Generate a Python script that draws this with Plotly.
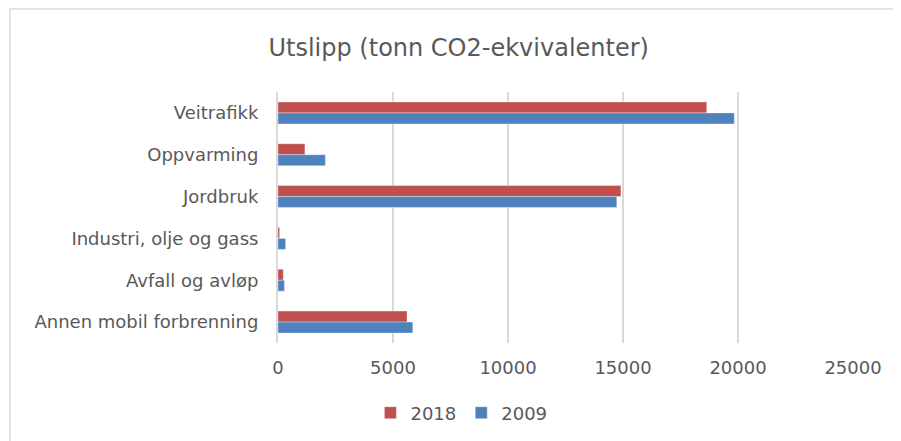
import plotly.graph_objects as go

# Data
categories = ['Veitrafikk', 'Oppvarming', 'Jordbruk', 'Industri, olje og gass',
              'Avfall og avløp', 'Annen mobil forbrenning']
values_2018 = [18640, 1170, 14910, 70, 230, 5610]
values_2009 = [19840, 2060, 14730, 330, 280, 5860]

text_color = '#595959'
grid_color = '#D9D9D9'

fig = go.Figure()
fig.add_trace(go.Bar(name='2018', y=categories, x=values_2018, orientation='h',
                     marker=dict(color='#C0504D', line=dict(color='rgba(255,255,255,0.35)', width=1))))
fig.add_trace(go.Bar(name='2009', y=categories, x=values_2009, orientation='h',
                     marker=dict(color='#4F81BD', line=dict(color='rgba(255,255,255,0.35)', width=1))))

# page body adds an 8px margin, so the figure is a bit smaller than the window
fig.update_layout(
    width=893, height=433,
    margin=dict(l=270, r=48, t=84, b=98, autoexpand=False),
    paper_bgcolor='white', plot_bgcolor='white',
    font=dict(family='DejaVu Sans', size=18, color=text_color),
    title=dict(text='Utslipp (tonn CO2-ekvivalenter)', font=dict(size=24, color=text_color),
               x=0.5047, xanchor='center', y=0.908, yanchor='middle'),
    barmode='group', bargap=0.475, bargroupgap=0,
    legend=dict(orientation='h', x=0.319, xanchor='center', y=-0.279, yanchor='middle',
                font=dict(size=18, color=text_color), itemwidth=30),
    xaxis=dict(range=[0, 25000], dtick=5000, tickformat='d', showgrid=True,
               gridcolor=grid_color, gridwidth=2, zeroline=False, showline=False,
               ticks='outside', ticklen=0, ticklabelstandoff=8),
    yaxis=dict(autorange='reversed', showgrid=False, showline=True, linecolor=grid_color,
               linewidth=2, ticks='', ticklabelstandoff=14),
    shapes=[dict(type='rect', xref='paper', yref='paper', x0=-0.466, x1=1.2,
                 y0=-0.5, y1=1.331, line=dict(color=grid_color, width=1.5))],
)

fig.write_html('out.html')
